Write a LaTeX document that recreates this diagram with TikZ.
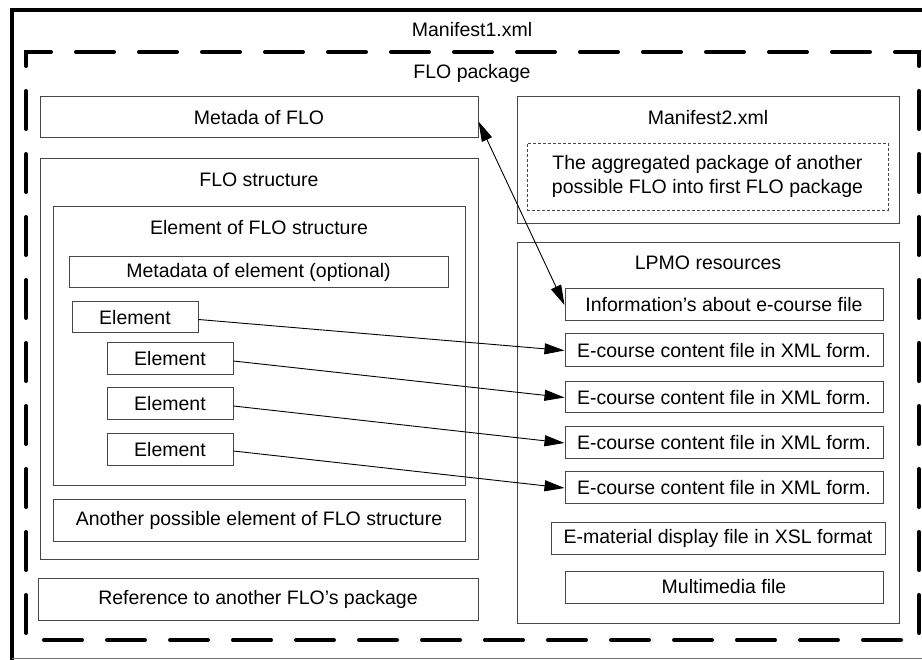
\documentclass[tikz,border=0pt]{standalone}
\usepackage{fontspec}
\setmainfont{Liberation Sans}
\usetikzlibrary{arrows.meta}
\begin{document}
\begin{tikzpicture}[x=1pt,y=-1pt,
  font=\fontsize{19.5}{24}\selectfont,
  box/.style n args={2}{draw=black!72, line width=1pt, inner sep=0pt,
    minimum width=#1pt, minimum height=#2pt},
  title/.style={inner sep=0pt},
  conn/.style={line width=0.9pt, -{Triangle[length=20pt,width=11pt]}},
  biconn/.style={line width=0.9pt, {Triangle[length=20pt,width=11pt]}-{Triangle[length=20pt,width=11pt]}}]
\useasboundingbox (0,0) rectangle (922,660);

% outer frame of Manifest1.xml
\draw[line width=4pt] (922,10) -- (12,10) -- (12,660);
\draw[black!55, line width=1pt] (12,658) -- (922,658);
\node[title] (m1) at (472,30) {Manifest1.xml};

% dashed FLO package frame
\draw[line width=4pt, line cap=round, dash pattern=on 38pt off 25pt]
  (26,65) -- (26,52) -- (919,52) -- (919,640) -- (26,640) -- cycle;
\node[title] (pkg) at (472,73) {FLO package};

% left column
\node[box={438}{41}] (meta) at (259,117.5) {Metada of FLO};

\node[box={438}{400}] (flo) at (259,359) {};
\node[title] (flot) at (259,180) {FLO structure};

\node[box={412}{279}] (elst) at (259,346.5) {};
\node[title] (elstt) at (259,228) {Element of FLO structure};

\node[box={379}{31}] (metael) at (258.5,272.5) {Metadata of element (optional)};
\node[box={126}{31}] (el1) at (135,317.5) {Element};
\node[box={126}{32}] (el2) at (170,359) {Element};
\node[box={126}{32}] (el3) at (170,404) {Element};
\node[box={126}{32}] (el4) at (170,450) {Element};

\node[box={412}{41}] (another) at (259,520.5) {Another possible element of FLO structure};
\node[box={440}{42}] (ref) at (258,599) {Reference to another FLO’s package};

% right column
\node[box={382}{127}] (m2) at (708,160.5) {};
\node[title] (m2t) at (708,118) {Manifest2.xml};
\node[draw=black!72, line width=0.8pt, dash pattern=on 3pt off 2pt, inner sep=0pt,
  minimum width=361pt, minimum height=67pt, align=center] (aggr) at (707.5,176.5)
  {The aggregated package of another\\possible FLO into first FLO package};

\node[box={382}{380}] (lpmo) at (708,433) {};
\node[title] (lpmot) at (708,263) {LPMO resources};

\node[box={318}{32}] (info) at (724,305) {Information’s about e-course file};
\node[box={318}{33}] (ec1) at (724,350.5) {E-course content file in XML form.};
\node[box={318}{31}] (ec2) at (724,397.5) {E-course content file in XML form.};
\node[box={318}{32}] (ec3) at (724,443) {E-course content file in XML form.};
\node[box={318}{32}] (ec4) at (724,488) {E-course content file in XML form.};
\node[box={334}{32}] (emat) at (718,538) {E-material display file in XSL format};
\node[box={318}{32}] (mm) at (724,587) {Multimedia file};

% connectors
\draw[biconn] ([yshift=-4pt]meta.east) -- (info.west);
\draw[conn] ([yshift=-2pt]el1.east) -- (ec1.west);
\draw[conn] ([yshift=-2pt]el2.east) -- (ec2.west);
\draw[conn] ([yshift=-2pt]el3.east) -- (ec3.west);
\draw[conn] ([yshift=-1pt]el4.east) -- (ec4.west);
\end{tikzpicture}
\end{document}
